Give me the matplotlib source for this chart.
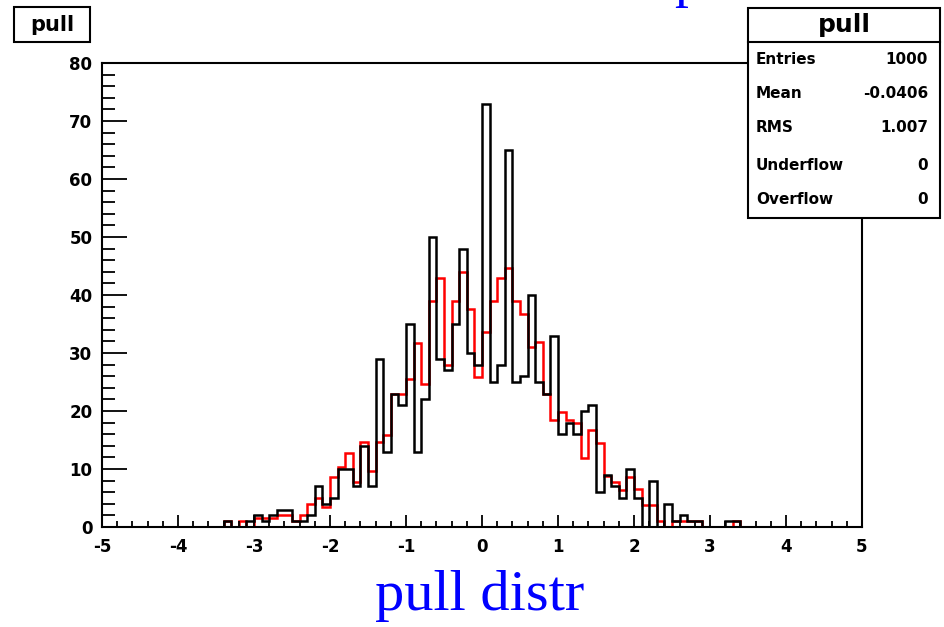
import numpy as np
import matplotlib
matplotlib.use("Agg")
import matplotlib.pyplot as plt
from matplotlib.patches import Rectangle
from matplotlib.ticker import MultipleLocator

# Data: pull histograms, 0.1 wide bins from -3.5 to 3.5
bin_lo, bin_hi, n_bins = -3.5, 3.5, 70
black_counts = [0, 1, 0, 0, 1, 2, 1, 2, 3, 3,
                1, 1, 2, 7, 4, 5, 10, 10, 7, 14,
                7, 29, 13, 23, 21, 35, 13, 22, 50, 29,
                27, 35, 48, 30, 28, 73, 25, 28, 65, 25,
                26, 40, 25, 23, 33, 16, 18, 16, 20, 21,
                6, 9, 7, 5, 10, 5, 0, 8, 0, 4,
                1, 2, 1, 1, 0, 0, 0, 1, 1, 0]
red_counts = [0, 1, 0, 1, 0, 1.5, 1.5, 1.5, 2, 2,
              1, 2, 4, 5, 3.4, 8.7, 10.4, 12.7, 7.8, 14.6,
              9.6, 14.6, 15.9, 23, 23, 25.6, 31.8, 24.7, 39, 43,
              27.9, 39, 44, 37.6, 25.8, 33.6, 39, 43, 44.7, 39,
              36.7, 31, 31.9, 23, 18.5, 19.9, 18.5, 18, 11.9, 16.8,
              14.5, 8.8, 7.8, 6.4, 8.7, 6.5, 3.8, 3.8, 1, 0,
              1, 1, 1, 1, 0, 0, 0, 0, 1, 0]

stat_names = ["Entries", "Mean", "RMS", "Underflow", "Overflow"]
stat_values = ["1000", "-0.0406", "1.007", "0", "0"]
hist_name = "pull"
x_title = "pull distr"

plt.rcParams['axes.unicode_minus'] = False
plt.rcParams['font.family'] = ['DejaVu Sans']
plt.rcParams['font.weight'] = 'bold'

W, H = 945, 627
fig = plt.figure(figsize=(W / 100, H / 100), dpi=100)
fig.patch.set_facecolor('white')

# main frame in pixel positions of the reference
ax = fig.add_axes([102 / W, 1 - 527 / H, 760 / W, 464 / H])
edges = np.linspace(bin_lo, bin_hi, n_bins + 1)
ax.stairs(red_counts, edges, color='red', lw=1.8, baseline=0)
ax.stairs(black_counts, edges, color='black', lw=1.8, baseline=0)

ax.set_xlim(-5, 5)
ax.set_ylim(0, 80)
ax.xaxis.set_major_locator(MultipleLocator(1))
ax.xaxis.set_minor_locator(MultipleLocator(0.2))
ax.yaxis.set_major_locator(MultipleLocator(10))
ax.yaxis.set_minor_locator(MultipleLocator(2))
ax.tick_params(axis='x', which='major', direction='in', length=8.6, width=1.3,
               pad=8, labelsize=12)
ax.tick_params(axis='x', which='minor', direction='in', length=4.3, width=1.3)
ax.tick_params(axis='y', which='major', direction='in', length=18, width=1.3,
               pad=7, labelsize=12)
ax.tick_params(axis='y', which='minor', direction='in', length=9, width=1.3)
for s in ax.spines.values():
    s.set_linewidth(1.5)

# overlay in pixel coordinates for boxes and titles
ov = fig.add_axes([0, 0, 1, 1], zorder=5)
ov.set_xlim(0, W)
ov.set_ylim(H, 0)
ov.axis('off')
ov.patch.set_alpha(0)

# title box top-left
ov.add_patch(Rectangle((14, 7), 76, 35, fc='white', ec='black', lw=1.5))
ov.text(52, 25, hist_name, ha='center', va='center', fontsize=15, fontweight='bold')

# stats box
ov.add_patch(Rectangle((748, 8), 192, 210, fc='white', ec='black', lw=1.5))
ov.plot([748, 940], [42, 42], color='black', lw=1.5)
ov.text(844, 25, hist_name, ha='center', va='center', fontsize=18, fontweight='bold')
row_y = [60, 93, 128, 165, 199]
for name, val, y in zip(stat_names, stat_values, row_y):
    ov.text(756, y, name, ha='left', va='center', fontsize=11, fontweight='bold')
    ov.text(928, y, val, ha='right', va='center', fontsize=11, fontweight='bold')

# blue axis title and the cut-off top title
ov.text(480, 596, x_title, ha='center', va='center', fontsize=42,
        family='Liberation Serif', fontweight='normal', color='#0000ff')
ov.text(674, -4, "p", ha='left', va='baseline', fontsize=40,
        family='Liberation Serif', fontweight='normal', color='#0000ff')

fig.savefig("out.png", dpi=100)
